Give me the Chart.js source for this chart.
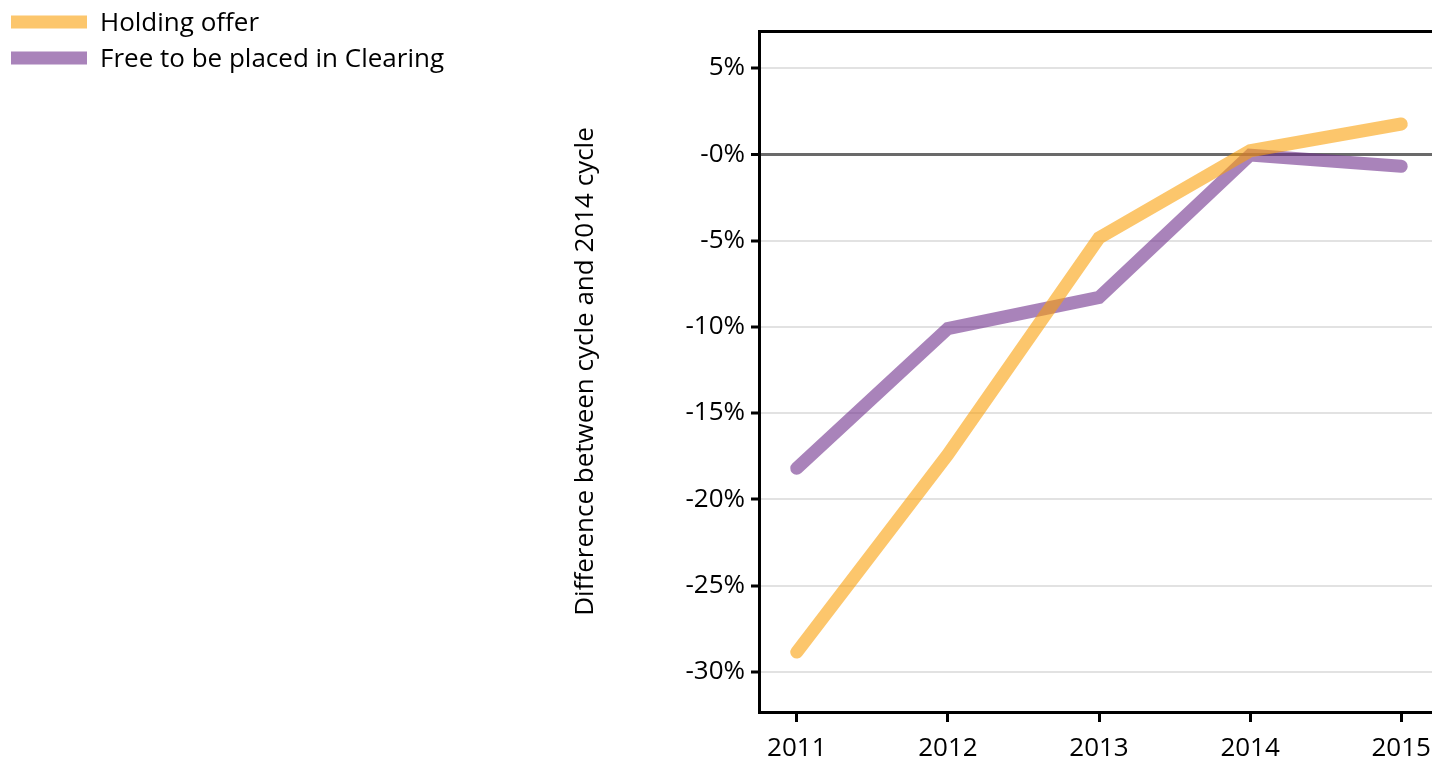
<!DOCTYPE html>
<html>
<head>
<meta charset="utf-8">
<script src="https://cdn.jsdelivr.net/npm/chart.js@4.4.1/dist/chart.umd.min.js"></script>
<style>
  html, body { margin: 0; padding: 0; background: #ffffff; overflow: hidden; }
  #wrap { width: 1460px; height: 760px; }
</style>
</head>
<body>
<div id="wrap"><canvas id="c" width="1460" height="760"></canvas></div>
<script>
const years = [2011, 2012, 2013, 2014, 2015];
const holdingOffer = [-28.85, -17.4, -4.85, 0.2, 1.75];
const freeToBePlaced = [-18.2, -10.1, -8.3, -0.05, -0.7];
const yTicks = [5, 0, -5, -10, -15, -20, -25, -30];
const seriesNames = ['Holding offer', 'Free to be placed in Clearing'];
const yTitle = 'Difference between cycle and 2014 cycle';

const FONT = '"Open Sans", "DejaVu Sans", sans-serif';
const FSIZE = 26;
const YELLOW = 'rgba(250,160,10,0.6)';
const PURPLE = 'rgba(112,48,140,0.6)';

const toPoints = arr => years.map((yr, i) => ({ x: yr, y: arr[i] }));

const legendPlugin = {
  id: 'sideLegend',
  afterDraw(chart) {
    const ctx = chart.ctx;
    ctx.save();
    ctx.font = FSIZE + 'px ' + FONT;
    ctx.textBaseline = 'middle';
    ctx.textAlign = 'left';
    chart.data.datasets.forEach((ds, i) => {
      const y = 22 + i * 36;
      ctx.fillStyle = ds.borderColor;
      ctx.fillRect(11, y - 6.5, 76, 13);
      ctx.fillStyle = '#000000';
      ctx.fillText(ds.label, 100, y + 2);
    });
    ctx.restore();
  }
};

new Chart(document.getElementById('c'), {
  type: 'line',
  data: {
    datasets: [
      {
        label: seriesNames[0],
        data: toPoints(holdingOffer),
        borderColor: YELLOW,
        backgroundColor: YELLOW,
        borderWidth: 13,
        borderCapStyle: 'round',
        borderJoinStyle: 'miter',
        pointRadius: 0,
        tension: 0,
        fill: false,
        clip: false
      },
      {
        label: seriesNames[1],
        data: toPoints(freeToBePlaced),
        borderColor: PURPLE,
        backgroundColor: PURPLE,
        borderWidth: 13,
        borderCapStyle: 'round',
        borderJoinStyle: 'miter',
        pointRadius: 0,
        tension: 0,
        fill: false,
        clip: false
      }
    ]
  },
  options: {
    responsive: false,
    animation: false,
    devicePixelRatio: 1,
    layout: { padding: { left: 560, top: 31, right: 21, bottom: 0 } },
    plugins: {
      legend: { display: false },
      tooltip: { enabled: false },
      title: { display: false }
    },
    scales: {
      x: {
        type: 'linear',
        position: 'bottom',
        min: 2010.75,
        max: 2015.25,
        afterBuildTicks: s => { s.ticks = years.map(v => ({ value: v })); },
        afterFit: s => { s.height = 48; },
        ticks: {
          callback: v => String(v),
          color: '#000000',
          font: { family: FONT, size: FSIZE },
          padding: 11,
          maxRotation: 0,
          autoSkip: false
        },
        grid: {
          display: true,
          drawOnChartArea: false,
          drawTicks: true,
          tickLength: 10,
          tickWidth: 3,
          tickColor: '#000000'
        },
        border: { display: true, color: '#000000', width: 3 }
      },
      xTop: {
        type: 'linear',
        position: 'top',
        min: 2010.75,
        max: 2015.25,
        afterFit: s => { s.height = 0; },
        ticks: { display: false },
        grid: { display: false, drawTicks: false },
        border: { display: true, color: '#000000', width: 3 }
      },
      y: {
        type: 'linear',
        min: -32.32,
        max: 7.14,
        afterBuildTicks: s => { s.ticks = yTicks.map(v => ({ value: v })); },
        afterFit: s => { s.width = 199; },
        ticks: {
          callback: v => (v === 0 ? '-0%' : v + '%'),
          color: '#000000',
          font: { family: FONT, size: FSIZE },
          padding: 6
        },
        grid: {
          display: true,
          drawOnChartArea: true,
          drawTicks: true,
          tickLength: 8,
          tickWidth: 3,
          tickColor: '#000000',
          lineWidth: c => (c.tick && c.tick.value === 0 ? 3 : 2),
          color: c => (c.tick && c.tick.value === 0 ? '#6a6a6a' : '#e2e2e2')
        },
        border: { display: true, color: '#000000', width: 3 },
        title: {
          display: true,
          text: yTitle,
          color: '#000000',
          font: { family: FONT, size: FSIZE },
          padding: { top: 10, bottom: 0 }
        }
      }
    }
  },
  plugins: [legendPlugin]
});
</script>
</body>
</html>
